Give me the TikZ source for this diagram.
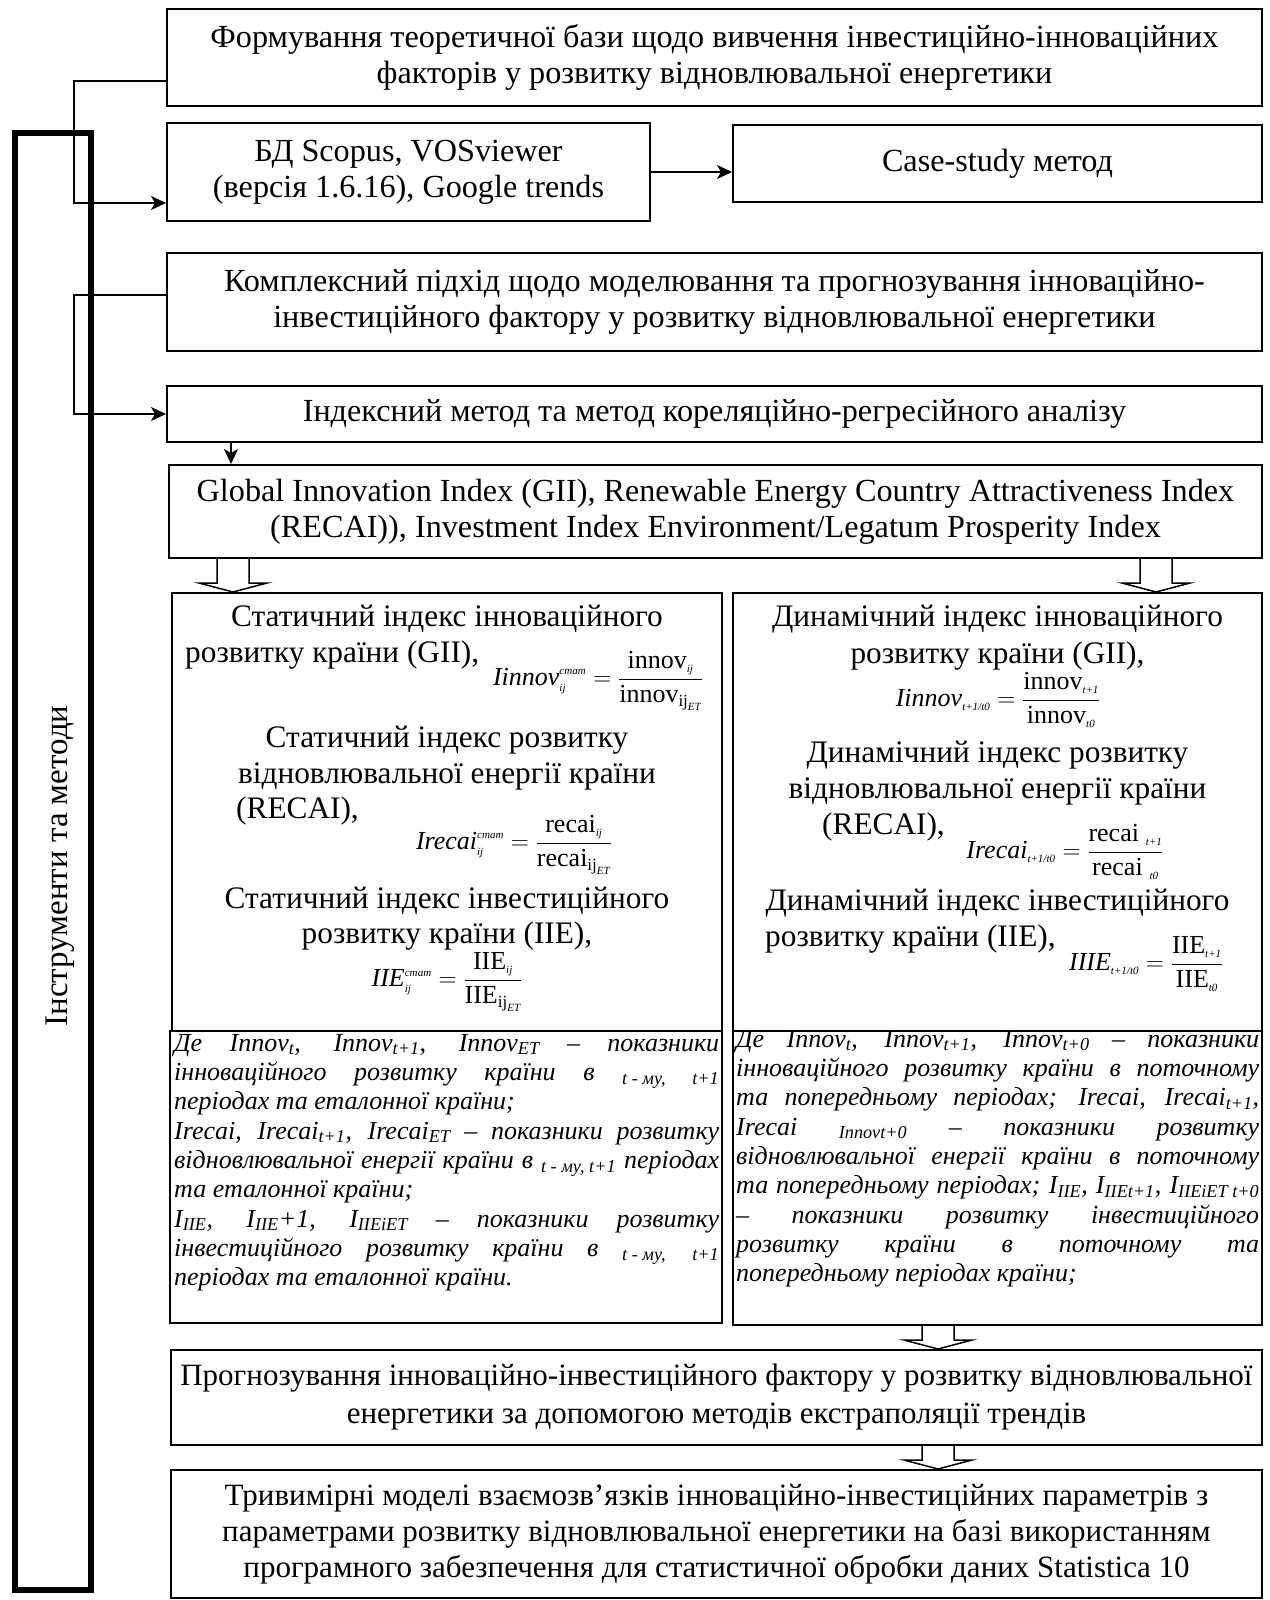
\documentclass[tikz,border=0pt]{standalone}
\usepackage{fontspec}
\setmainfont{Liberation Serif}
\usepackage{amsmath}
\usetikzlibrary{arrows.meta,calc}

\newcommand{\ix}[1]{\text{\fontsize{11}{11}\selectfont\itshape #1}}
\newcommand{\iu}[1]{\text{\fontsize{17}{17}\selectfont\upshape #1}}

\begin{document}
\begin{tikzpicture}[x=1pt,y=-1pt]
  \useasboundingbox (0,0) rectangle (1269,1600);
  \tikzstyle{box}=[draw, line width=2pt, inner sep=0pt, align=center, font=\fontsize{32.2}{36}\selectfont]
  \tikzstyle{txt}=[inner sep=0pt, font=\fontsize{31.3}{36}\selectfont]
  \tikzstyle{frm}=[inner sep=0pt, font=\fontsize{26}{30}\selectfont]
  \tikzstyle{note}=[inner sep=0pt, align=justify, font=\fontsize{26}{29.3}\selectfont\itshape]
  \tikzstyle{conn}=[line width=1.2pt, -{Stealth[length=15pt,width=14pt,inset=4pt]}]
  \tikzstyle{hollow}=[draw, line width=1.5pt, fill=white]
  \tikzstyle{fat}=[to path={let \p1=(\tikztostart), \p2=(\tikztotarget) in
    (\x1-16pt,\y1) -- (\x1-16pt,\y2+9pt) -- (\x1-34pt,\y2+9pt) -- (\x1,\y2)
    -- (\x1+34pt,\y2+9pt) -- (\x1+16pt,\y2+9pt) -- (\x1+16pt,\y1)}]

  % Рамка зліва
  \node[draw, line width=5.5pt, minimum width=76, minimum height=1457, inner sep=0pt] (tools) at (53,861.5) {};
  \node[rotate=90, inner sep=0pt, font=\fontsize{33}{36}\selectfont] (toolsl) at (60,866) {Інструменти та методи};

  \node[box, minimum width=1095, minimum height=97] (top) at (714.5,57.5)
    {Формування теоретичної бази щодо вивчення інвестиційно-інноваційних\\факторів у розвитку відновлювальної енергетики};
  \node[box, minimum width=483, minimum height=98] (bd) at (408.5,172)
    {БД Scopus, VOSviewer\\(версія 1.6.16), Google trends};
  \node[box, minimum width=529, minimum height=77] (cases) at (997.5,163.5) {Case-study метод};
  \node[box, minimum width=1095, minimum height=98] (complex) at (714.5,302)
    {Комплексний підхід щодо моделювання та прогнозування інноваційно-\\інвестиційного фактору у розвитку відновлювальної енергетики};
  \node[box, minimum width=1095, minimum height=56] (index) at (714.5,414)
    {Індексний метод та метод кореляційно-регресійного аналізу};
  \node[box, minimum width=1093, minimum height=93] (gii) at (715.5,511.5)
    {Global Innovation Index (GII), Renewable Energy Country Attractiveness Index\\(RECAI)), Investment Index Environment/Legatum Prosperity Index};

  \node[box, minimum width=550, minimum height=438] (lf) at (447,812) {};
  \node[box, minimum width=529, minimum height=438] (rf) at (997.5,812) {};
  \node[box, minimum width=552, minimum height=292] (ln) at (446,1177) {};
  \node[box, minimum width=529, minimum height=294] (rn) at (997.5,1178) {};

  \node[box, minimum width=1091, minimum height=95, font=\fontsize{31}{38}\selectfont] (fore) at (716.5,1397.5)
    {Прогнозування інноваційно-інвестиційного фактору у розвитку відновлювальної\\енергетики за допомогою методів екстраполяції трендів};
  \node[box, minimum width=1091, minimum height=128, font=\fontsize{31}{36}\selectfont] (three) at (716.5,1534)
    {Тривимірні моделі взаємозв’язків інноваційно-інвестиційних параметрів з\\параметрами розвитку відновлювальної енергетики на базі використанням\\програмного забезпечення для статистичної обробки даних Statistica 10};

  % Статичні індекси
  \node[txt] (ls1) at (447,619) {Статичний індекс інноваційного};
  \node[txt, anchor=west] (ls2) at (185,655) {розвитку країни (GII),};
  \node[frm] (lf1) at (598,681)
    {$\textit{Iinnov}^{\ix{стат}}_{\ix{ij}}=\dfrac{\text{innov}_{\ix{ij}}}{\text{innov}_{\iu{ij}_{\ix{ET}}}}$};
  \node[txt] (ls3) at (447,740) {Статичний індекс розвитку};
  \node[txt] (ls4) at (447,776) {відновлювальної енергії країни};
  \node[txt, anchor=west] (ls5) at (236,811) {(RECAI),};
  \node[frm] (lf2) at (514,845)
    {$\textit{Irecai}^{\ix{стат}}_{\ix{ij}}=\dfrac{\text{recai}_{\ix{ij}}}{\text{recai}_{\iu{ij}_{\ix{ET}}}}$};
  \node[txt] (ls6) at (447,901) {Статичний індекс інвестиційного};
  \node[txt] (ls7) at (447,936) {розвитку країни (IIE),};
  \node[frm] (lf3) at (447,982)
    {$\textit{IIE}^{\ix{стат}}_{\ix{ij}}=\dfrac{\text{IIE}_{\ix{ij}}}{\text{IIE}_{\iu{ij}_{\ix{ET}}}}$};

  % Динамічні індекси
  \node[txt] (rs1) at (997.5,619) {Динамічний індекс інноваційного};
  \node[txt] (rs2) at (997.5,656) {розвитку країни (GII),};
  \node[frm] (rf1) at (998,700)
    {$\textit{Iinnov}_{\ix{t+1/t0}}=\dfrac{\text{innov}_{\ix{t+1}}}{\text{innov}_{\ix{t0}}}$};
  \node[txt] (rs3) at (997.5,755) {Динамічний індекс розвитку};
  \node[txt] (rs4) at (997.5,791) {відновлювальної енергії країни};
  \node[txt, anchor=west] (rs5) at (822,827) {(RECAI),};
  \node[frm] (rf2) at (1065,852)
    {$\textit{Irecai}_{\ix{t+1/t0}}=\dfrac{\text{recai}\;{}_{\ix{t+1}}}{\text{recai}\;{}_{\ix{t0}}}$};
  \node[txt] (rs6) at (997.5,903) {Динамічний індекс інвестиційного};
  \node[txt, anchor=west] (rs7) at (765,939) {розвитку країни (IIE),};
  \node[frm] (rf3) at (1146,964)
    {$\textit{IIIE}_{\ix{t+1/t0}}=\dfrac{\text{IIE}_{\ix{t+1}}}{\text{IIE}_{\ix{t0}}}$};

  \node[note, text width=545, anchor=north west] (lnt) at (174,1034)
    {\noindent Де Innov\textsubscript{t}, Innov\textsubscript{t+1}, Innov\textsubscript{ET} – показники\linebreak
     інноваційного розвитку країни в \textsubscript{t - му,}\quad \textsubscript{t+1}\linebreak
     періодах та еталонної країни;\newline
     Irecai, Irecai\textsubscript{t+1}, Irecai\textsubscript{ET} – показники розвитку\linebreak
     відновлювальної енергії країни в \textsubscript{t - му, t+1} періодах\linebreak
     та еталонної країни;\newline
     I\textsubscript{IIE}, I\textsubscript{IIE}+1, I\textsubscript{IIEiET} – показники розвитку\linebreak
     інвестиційного розвитку країни в \textsubscript{t - му,}\quad \textsubscript{t+1}\linebreak
     періодах та еталонної країни.};
  \node[note, text width=523, anchor=north west] (rnt) at (736,1030)
    {\noindent Де Innov\textsubscript{t}, Innov\textsubscript{t+1}, Innov\textsubscript{t+0} – показники\linebreak
     інноваційного розвитку країни в поточному\linebreak
     та попередньому періодах; Irecai, Irecai\textsubscript{t+1},\linebreak
     Irecai \textsubscript{Innovt+0} – показники розвитку\linebreak
     відновлювальної енергії країни в поточному\linebreak
     та попередньому періодах; I\textsubscript{IIE}, I\textsubscript{IIEt+1}, I\textsubscript{IIEiET t+0}\linebreak
     – показники розвитку інвестиційного\linebreak
     розвитку країни в поточному та\linebreak
     попередньому періодах країни;};

  \coordinate (j1) at (74,81);
  \coordinate (j2) at (74,295);
  \coordinate (d1) at (231,0);
  \draw[conn] ([yshift=-23.5pt]top.west) -- (j1) |- ([yshift=-31pt]bd.west);
  \draw[conn] (bd.east) -- (cases.west |- bd.east);
  \draw[conn] ([yshift=7pt]complex.west) -- (j2) |- (index.west);
  \draw[conn] (index.south -| d1) -- (gii.north -| d1);

  \coordinate (a1) at (233,0);
  \coordinate (a2) at (1156,0);
  \coordinate (a3) at (938,0);
  \path[hollow] (gii.south -| a1) to[fat] (lf.north -| a1);
  \path[hollow] (gii.south -| a2) to[fat] (rf.north -| a2);
  \path[hollow] (rn.south -| a3) to[fat] (fore.north -| a3);
  \path[hollow] (fore.south -| a3) to[fat] (three.north -| a3);
\end{tikzpicture}
\end{document}
